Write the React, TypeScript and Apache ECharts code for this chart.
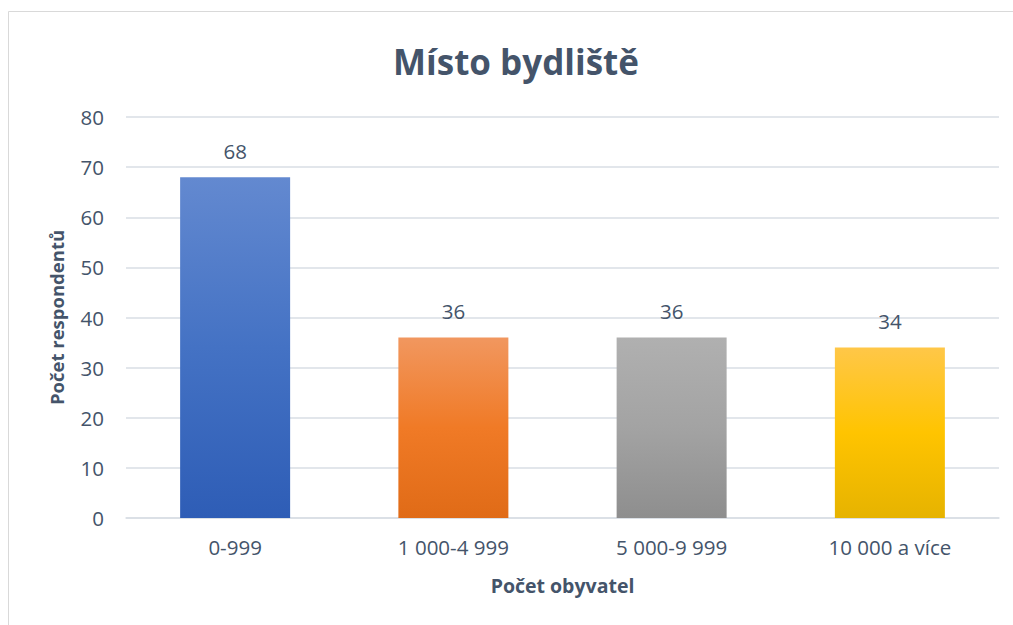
import React, { useEffect, useRef } from "react";
import * as echarts from "echarts";

const categories = ["0-999", "1 000-4 999", "5 000-9 999", "10 000 a více"];
const values = [68, 36, 36, 34];
const gradients: [string, string, string][] = [
  ["#6389D0", "#4472C4", "#2E5DB6"],
  ["#F1975F", "#F07A26", "#E06B17"],
  ["#B0B0B0", "#A3A3A3", "#8E8E8E"],
  ["#FFC748", "#FFC400", "#E6B300"],
];
const yTicks = { min: 0, max: 80, interval: 10 };

const FONT = "'Open Sans', sans-serif";
const TEXT = "#44546A";

export default function App() {
  const ref = useRef<HTMLDivElement>(null);
  useEffect(() => {
    if (!ref.current) return;
    const chart = echarts.init(ref.current, null, { renderer: "svg" });
    chart.setOption({
      animation: false,
      backgroundColor: "#ffffff",
      textStyle: { fontFamily: FONT },
      graphic: [
        {
          type: "rect",
          shape: { x: 8.5, y: 11.5, width: 1020, height: 640 },
          style: { fill: "none", stroke: "#D9D9D9", lineWidth: 1 },
          silent: true,
        },
        {
          type: "text",
          x: 516,
          y: 61,
          style: {
            text: "Místo bydliště",
            fontFamily: FONT,
            fontSize: 35,
            fontWeight: "bold",
            fill: TEXT,
            align: "center",
            verticalAlign: "middle",
          },
          silent: true,
        },
      ],
      grid: { left: 126, right: 14, top: 117, bottom: 107, containLabel: false },
      xAxis: {
        type: "category",
        data: categories,
        axisLine: { show: true, lineStyle: { color: "#D9DEE5", width: 1.5 } },
        axisTick: { show: false },
        axisLabel: { color: TEXT, fontSize: 20.5, margin: 18, fontFamily: FONT },
        name: "Počet obyvatel",
        nameLocation: "middle",
        nameGap: 57,
        nameTextStyle: { color: TEXT, fontSize: 19.5, fontWeight: "bold", fontFamily: FONT },
      },
      yAxis: {
        type: "value",
        min: yTicks.min,
        max: yTicks.max,
        interval: yTicks.interval,
        axisLine: { show: false },
        axisTick: { show: false },
        splitLine: { lineStyle: { color: "#D9DEE5", width: 1.5 } },
        axisLabel: { color: TEXT, fontSize: 20.5, margin: 22, fontFamily: FONT },
        name: "Počet respondentů",
        nameLocation: "middle",
        nameGap: 60,
        nameTextStyle: { color: TEXT, fontSize: 18.5, fontWeight: "bold", fontFamily: FONT },
      },
      series: [
        {
          type: "bar",
          barWidth: 110,
          data: values.map((v, i) => ({
            value: v,
            itemStyle: {
              color: new echarts.graphic.LinearGradient(0, 0, 0, 1, [
                { offset: 0, color: gradients[i][0] },
                { offset: 0.5, color: gradients[i][1] },
                { offset: 1, color: gradients[i][2] },
              ]),
            },
          })),
          label: {
            show: true,
            position: "top",
            distance: 16,
            color: TEXT,
            fontSize: 20.5,
            fontFamily: FONT,
          },
        },
      ],
    });
    return () => chart.dispose();
  }, []);
  return (
    <div
      ref={ref}
      style={{ position: "absolute", left: 0, top: 0, width: 1013, height: 625 }}
    />
  );
}
